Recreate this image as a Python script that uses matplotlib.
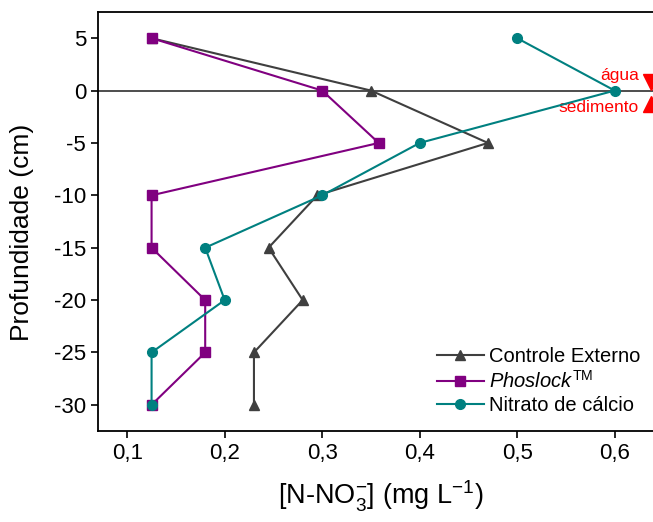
import matplotlib
matplotlib.use("Agg")
import matplotlib.pyplot as plt

plt.rcParams["font.family"] = ["Liberation Sans", "DejaVu Sans"]
plt.rcParams["mathtext.fontset"] = "custom"
plt.rcParams["mathtext.rm"] = "Liberation Sans"
plt.rcParams["mathtext.it"] = "Liberation Sans:italic"

# depth profile (cm) and N-NO3 concentration (mg/L) for each treatment
depth = [5, 0, -5, -10, -15, -20, -25, -30]
controle = [0.125, 0.35, 0.47, 0.295, 0.245, 0.28, 0.23, 0.23]
phoslock = [0.125, 0.30, 0.358, 0.125, 0.125, 0.18, 0.18, 0.125]
nitrato = [0.50, 0.60, 0.40, 0.30, 0.18, 0.20, 0.125, 0.125]

xticks = [0.1, 0.2, 0.3, 0.4, 0.5, 0.6]
xticklabels = ["0,1", "0,2", "0,3", "0,4", "0,5", "0,6"]
yticks = [5, 0, -5, -10, -15, -20, -25, -30]
yticklabels = ["5", "0", "-5", "-10", "-15", "-20", "-25", "-30"]

GRAY = "#3f3f3f"
PURPLE = "#800080"
TEAL = "#008080"

fig = plt.figure(figsize=(6.53, 5.22), dpi=100)
ax = fig.add_axes([0.150, 0.1743, 0.866, 0.8027])

# water / sediment interface
ax.axhline(0, color=GRAY, lw=1.3, zorder=1)

ax.plot(controle, depth, color=GRAY, marker="^", ms=7, lw=1.5,
        label="Controle Externo", zorder=3)
ax.plot(phoslock, depth, color=PURPLE, marker="s", ms=6.5, lw=1.5,
        label=r"$\mathit{Phoslock}^{\mathrm{TM}}$", zorder=4)
ax.plot(nitrato, depth, color=TEAL, marker="o", ms=7, lw=1.5,
        label="Nitrato de cálcio", zorder=5)

# interface markers
ax.plot([0.637], [0.8], marker="v", color="red", ms=11, clip_on=False, zorder=6)
ax.plot([0.637], [-1.3], marker="^", color="red", ms=11, clip_on=False, zorder=6)
ax.text(0.625, 1.4, "água", color="red", fontsize=12.5, ha="right", va="center")
ax.text(0.625, -1.6, "sedimento", color="red", fontsize=12.5, ha="right", va="center")

ax.set_xlim(0.07, 0.65)
ax.set_ylim(-32.5, 7.5)
ax.set_xticks(xticks)
ax.set_xticklabels(xticklabels)
ax.set_yticks(yticks)
ax.set_yticklabels(yticklabels)
ax.tick_params(direction="out", length=5, width=1.2, labelsize=16)

for sp in ax.spines.values():
    sp.set_linewidth(1.3)

ax.set_xlabel(r"[N-NO$_3^{-}$] (mg L$^{-1}$)", fontsize=19.5, labelpad=11)
ax.set_ylabel("Profundidade (cm)", fontsize=19)
ax.yaxis.set_label_coords(-0.113, 0.473)

ax.legend(loc="lower right", bbox_to_anchor=(0.980, 0.01), frameon=False,
          fontsize=14.5, handlelength=2.3, handletextpad=0.25, labelspacing=0.2,
          borderaxespad=0.2)

fig.savefig("out.png", dpi=100)
